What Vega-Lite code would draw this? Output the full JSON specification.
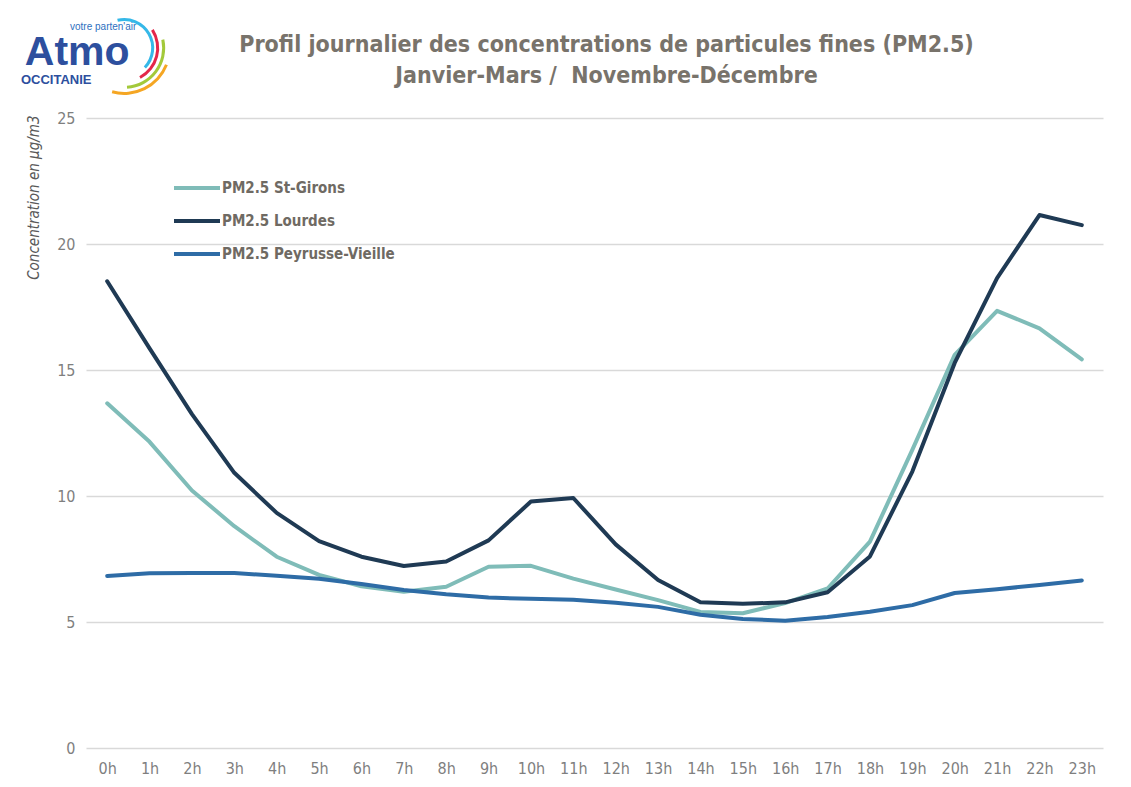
{
  "$schema": "https://vega.github.io/schema/vega-lite/v6.json",
  "width": 1017,
  "height": 630,
  "autosize": {"type": "none"},
  "padding": {"left": 86, "top": 118, "right": 28, "bottom": 39},
  "background": "white",
  "title": {
    "text": ["Profil journalier des concentrations de particules fines (PM2.5)", "Janvier-Mars /\u00a0 Novembre-Décembre"],
    "anchor": "middle",
    "frame": "group",
    "dx": 12,
    "font": "Liberation Sans Narrow, DejaVu Sans Condensed, Arial Narrow, sans-serif",
    "fontSize": 23,
    "fontWeight": "bold",
    "color": "#78736b",
    "lineHeight": 31,
    "offset": -70
  },
  "config": {
    "view": {"stroke": null},
    "font": "Liberation Sans Narrow, DejaVu Sans Condensed, Arial Narrow, sans-serif",
    "axis": {
      "labelFont": "Liberation Sans Narrow, DejaVu Sans Condensed, Arial Narrow, sans-serif",
      "labelColor": "#7f7f7f",
      "labelFontSize": 16,
      "ticks": false,
      "domain": false,
      "gridColor": "#d9d9d9",
      "gridWidth": 1.5
    }
  },
  "data": {
    "values": [
      {"hour": "0h", "station": "PM2.5 St-Girons", "value": 13.68},
      {"hour": "1h", "station": "PM2.5 St-Girons", "value": 12.15},
      {"hour": "2h", "station": "PM2.5 St-Girons", "value": 10.22},
      {"hour": "3h", "station": "PM2.5 St-Girons", "value": 8.8},
      {"hour": "4h", "station": "PM2.5 St-Girons", "value": 7.59},
      {"hour": "5h", "station": "PM2.5 St-Girons", "value": 6.87},
      {"hour": "6h", "station": "PM2.5 St-Girons", "value": 6.42},
      {"hour": "7h", "station": "PM2.5 St-Girons", "value": 6.2},
      {"hour": "8h", "station": "PM2.5 St-Girons", "value": 6.4},
      {"hour": "9h", "station": "PM2.5 St-Girons", "value": 7.19},
      {"hour": "10h", "station": "PM2.5 St-Girons", "value": 7.23},
      {"hour": "11h", "station": "PM2.5 St-Girons", "value": 6.72},
      {"hour": "12h", "station": "PM2.5 St-Girons", "value": 6.29},
      {"hour": "13h", "station": "PM2.5 St-Girons", "value": 5.87},
      {"hour": "14h", "station": "PM2.5 St-Girons", "value": 5.4},
      {"hour": "15h", "station": "PM2.5 St-Girons", "value": 5.35},
      {"hour": "16h", "station": "PM2.5 St-Girons", "value": 5.75},
      {"hour": "17h", "station": "PM2.5 St-Girons", "value": 6.33},
      {"hour": "18h", "station": "PM2.5 St-Girons", "value": 8.19},
      {"hour": "19h", "station": "PM2.5 St-Girons", "value": 11.83},
      {"hour": "20h", "station": "PM2.5 St-Girons", "value": 15.6},
      {"hour": "21h", "station": "PM2.5 St-Girons", "value": 17.35},
      {"hour": "22h", "station": "PM2.5 St-Girons", "value": 16.65},
      {"hour": "23h", "station": "PM2.5 St-Girons", "value": 15.42},
      {"hour": "0h", "station": "PM2.5 Lourdes", "value": 18.52},
      {"hour": "1h", "station": "PM2.5 Lourdes", "value": 15.86},
      {"hour": "2h", "station": "PM2.5 Lourdes", "value": 13.25},
      {"hour": "3h", "station": "PM2.5 Lourdes", "value": 10.92},
      {"hour": "4h", "station": "PM2.5 Lourdes", "value": 9.33},
      {"hour": "5h", "station": "PM2.5 Lourdes", "value": 8.21},
      {"hour": "6h", "station": "PM2.5 Lourdes", "value": 7.59},
      {"hour": "7h", "station": "PM2.5 Lourdes", "value": 7.22},
      {"hour": "8h", "station": "PM2.5 Lourdes", "value": 7.4},
      {"hour": "9h", "station": "PM2.5 Lourdes", "value": 8.24},
      {"hour": "10h", "station": "PM2.5 Lourdes", "value": 9.78},
      {"hour": "11h", "station": "PM2.5 Lourdes", "value": 9.92},
      {"hour": "12h", "station": "PM2.5 Lourdes", "value": 8.08},
      {"hour": "13h", "station": "PM2.5 Lourdes", "value": 6.67},
      {"hour": "14h", "station": "PM2.5 Lourdes", "value": 5.78},
      {"hour": "15h", "station": "PM2.5 Lourdes", "value": 5.72},
      {"hour": "16h", "station": "PM2.5 Lourdes", "value": 5.78},
      {"hour": "17h", "station": "PM2.5 Lourdes", "value": 6.18},
      {"hour": "18h", "station": "PM2.5 Lourdes", "value": 7.6},
      {"hour": "19h", "station": "PM2.5 Lourdes", "value": 10.97},
      {"hour": "20h", "station": "PM2.5 Lourdes", "value": 15.28},
      {"hour": "21h", "station": "PM2.5 Lourdes", "value": 18.65},
      {"hour": "22h", "station": "PM2.5 Lourdes", "value": 21.15},
      {"hour": "23h", "station": "PM2.5 Lourdes", "value": 20.75},
      {"hour": "0h", "station": "PM2.5 Peyrusse-Vieille", "value": 6.83},
      {"hour": "1h", "station": "PM2.5 Peyrusse-Vieille", "value": 6.93},
      {"hour": "2h", "station": "PM2.5 Peyrusse-Vieille", "value": 6.94},
      {"hour": "3h", "station": "PM2.5 Peyrusse-Vieille", "value": 6.94},
      {"hour": "4h", "station": "PM2.5 Peyrusse-Vieille", "value": 6.84},
      {"hour": "5h", "station": "PM2.5 Peyrusse-Vieille", "value": 6.72},
      {"hour": "6h", "station": "PM2.5 Peyrusse-Vieille", "value": 6.51},
      {"hour": "7h", "station": "PM2.5 Peyrusse-Vieille", "value": 6.27},
      {"hour": "8h", "station": "PM2.5 Peyrusse-Vieille", "value": 6.1},
      {"hour": "9h", "station": "PM2.5 Peyrusse-Vieille", "value": 5.97},
      {"hour": "10h", "station": "PM2.5 Peyrusse-Vieille", "value": 5.92},
      {"hour": "11h", "station": "PM2.5 Peyrusse-Vieille", "value": 5.88},
      {"hour": "12h", "station": "PM2.5 Peyrusse-Vieille", "value": 5.76},
      {"hour": "13h", "station": "PM2.5 Peyrusse-Vieille", "value": 5.6},
      {"hour": "14h", "station": "PM2.5 Peyrusse-Vieille", "value": 5.29},
      {"hour": "15h", "station": "PM2.5 Peyrusse-Vieille", "value": 5.12},
      {"hour": "16h", "station": "PM2.5 Peyrusse-Vieille", "value": 5.05},
      {"hour": "17h", "station": "PM2.5 Peyrusse-Vieille", "value": 5.2},
      {"hour": "18h", "station": "PM2.5 Peyrusse-Vieille", "value": 5.41},
      {"hour": "19h", "station": "PM2.5 Peyrusse-Vieille", "value": 5.67},
      {"hour": "20h", "station": "PM2.5 Peyrusse-Vieille", "value": 6.15},
      {"hour": "21h", "station": "PM2.5 Peyrusse-Vieille", "value": 6.3},
      {"hour": "22h", "station": "PM2.5 Peyrusse-Vieille", "value": 6.47},
      {"hour": "23h", "station": "PM2.5 Peyrusse-Vieille", "value": 6.65}
    ]
  },
  "layer": [
    {
      "mark": {"type": "line", "strokeWidth": 4, "strokeJoin": "round", "strokeCap": "round"},
      "encoding": {
        "x": {
          "field": "hour",
          "type": "ordinal",
          "sort": null,
          "scale": {"type": "point", "padding": 0.5},
          "axis": {"title": null, "labelAngle": 0, "labelPadding": 12, "grid": false}
        },
        "y": {
          "field": "value",
          "type": "quantitative",
          "scale": {"domain": [0, 25], "nice": false},
          "axis": {
            "values": [0, 5, 10, 15, 20, 25],
            "grid": true,
            "labelPadding": 11,
            "title": "Concentration en µg/m3",
            "titleFont": "Liberation Sans Narrow, DejaVu Sans Condensed, Arial Narrow, sans-serif",
            "titleFontStyle": "italic",
            "titleFontWeight": "normal",
            "titleFontSize": 15,
            "titleColor": "#595959",
            "titleAngle": -90,
            "titleAlign": "right",
            "titleBaseline": "middle",
            "titleX": -53,
            "titleY": -3
          }
        },
        "color": {
          "field": "station",
          "type": "nominal",
          "sort": null,
          "scale": {
            "domain": ["PM2.5 St-Girons", "PM2.5 Lourdes", "PM2.5 Peyrusse-Vieille"],
            "range": ["#7fbcb8", "#1f3a54", "#2e6ca6"]
          },
          "legend": {
            "title": null,
            "orient": "none",
            "legendX": 86,
            "legendY": 60,
            "symbolType": "stroke",
            "symbolSize": 2116,
            "symbolStrokeWidth": 4,
            "clipHeight": 20,
            "labelFont": "Liberation Sans Narrow, DejaVu Sans Condensed, Arial Narrow, sans-serif",
            "labelFontSize": 15,
            "labelFontWeight": "bold",
            "labelColor": "#6f6a63",
            "labelOffset": 0,
            "labelLimit": 400,
            "rowPadding": 13
          }
        }
      }
    },
    {
      "data": {"values": [{"label": "Atmo"}]},
      "mark": {"type": "text", "font": "Liberation Sans", "fontSize": 41, "fontWeight": "bold", "color": "#2d4f9e", "align": "center", "baseline": "alphabetic", "xOffset": -30},
      "encoding": {
        "x": {"datum": "0h", "type": "ordinal"},
        "y": {"datum": 27.1, "type": "quantitative"},
        "text": {"field": "label"}
      }
    },
    {
      "data": {"values": [{"label": "votre parten'air"}]},
      "mark": {"type": "text", "font": "Liberation Sans", "fontSize": 10, "color": "#2d6fc0", "align": "center", "baseline": "alphabetic", "xOffset": -4},
      "encoding": {
        "x": {"datum": "0h", "type": "ordinal"},
        "y": {"datum": 28.5, "type": "quantitative"},
        "text": {"field": "label"}
      }
    },
    {
      "data": {"values": [{"label": "OCCITANIE"}]},
      "mark": {"type": "text", "font": "Liberation Sans", "fontSize": 13, "fontWeight": "bold", "color": "#2d4f9e", "align": "center", "baseline": "alphabetic", "xOffset": -51},
      "encoding": {
        "x": {"datum": "0h", "type": "ordinal"},
        "y": {"datum": 26.35, "type": "quantitative"},
        "text": {"field": "label"}
      }
    },
    {
      "data": {"values": [{"arc": "cyan"}]},
      "mark": {"type": "arc", "radius": 27, "radius2": 30, "theta": -0.235, "theta2": 2.33, "color": "#35b8e8", "xOffset": 17},
      "encoding": {
        "x": {"datum": "0h", "type": "ordinal"},
        "y": {"datum": 27.78, "type": "quantitative"}
      }
    },
    {
      "data": {"values": [{"arc": "red"}]},
      "mark": {"type": "arc", "radius": 32, "radius2": 35, "theta": 1.0, "theta2": 2.65, "color": "#e4264a", "xOffset": 17},
      "encoding": {
        "x": {"datum": "0h", "type": "ordinal"},
        "y": {"datum": 27.78, "type": "quantitative"}
      }
    },
    {
      "data": {"values": [{"arc": "green"}]},
      "mark": {"type": "arc", "radius": 38, "radius2": 41, "theta": 1.36, "theta2": 3.07, "color": "#a3c93a", "xOffset": 17},
      "encoding": {
        "x": {"datum": "0h", "type": "ordinal"},
        "y": {"datum": 27.78, "type": "quantitative"}
      }
    },
    {
      "data": {"values": [{"arc": "orange"}]},
      "mark": {"type": "arc", "radius": 44, "radius2": 47, "theta": 1.95, "theta2": 3.41, "color": "#f5a623", "xOffset": 17},
      "encoding": {
        "x": {"datum": "0h", "type": "ordinal"},
        "y": {"datum": 27.78, "type": "quantitative"}
      }
    }
  ]
}
